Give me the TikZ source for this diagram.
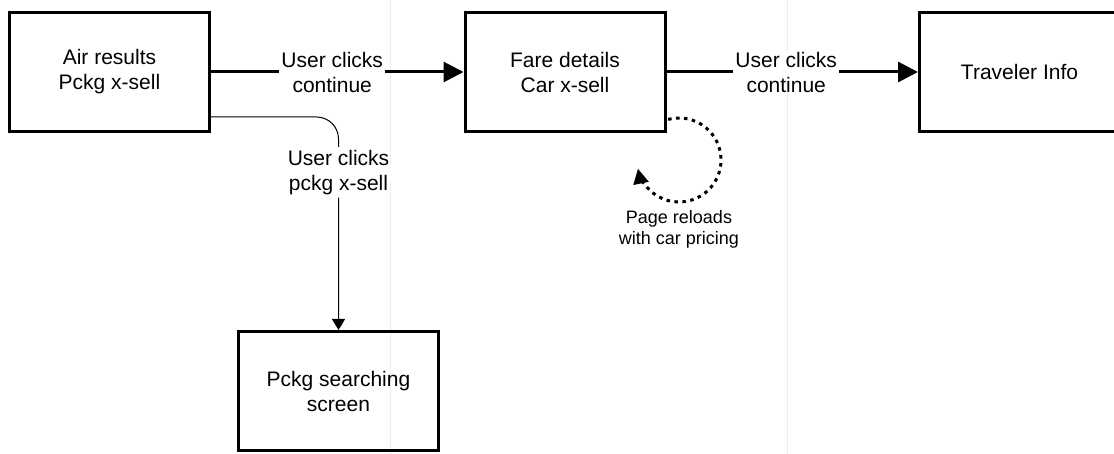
\documentclass[tikz,border=0pt]{standalone}
\usepackage{fontspec}
\setmainfont{Liberation Sans}
\usetikzlibrary{arrows.meta}

\begin{document}
\begin{tikzpicture}[x=1pt, y=1pt,
    screen/.style={draw, line width=3pt, minimum width=200pt, minimum height=119pt,
        align=center, font=\fontsize{21}{25}\selectfont},
    flow/.style={line width=3pt, -{Triangle[length=20pt, width=20pt]}},
    side/.style={line width=1pt, rounded corners=22pt, -{Triangle[length=11pt, width=13pt]}},
    reloadloop/.style={line width=3pt, dash pattern=on 3.5pt off 4.5pt,
        -{Triangle[length=15pt, width=15pt]}},
    clicklabel/.style={fill=white, inner xsep=2pt, inner ysep=1pt, align=center,
        font=\fontsize{21}{25}\selectfont},
    notelabel/.style={align=center, font=\fontsize{18}{21}\selectfont}]
        \useasboundingbox (0,0) rectangle (1114,-454);
        % page break guides
        \draw[black!7, line width=0.8pt] (390.5,0) -- (390.5,-454);
        \draw[black!7, line width=0.8pt] (787.7,0) -- (787.7,-454);

        \node[screen] (air) at (109.5,-72) {Air results\\Pckg x-sell};
        \node[screen] (fare) at (565,-72) {Fare details\\Car x-sell};
        \node[screen] (traveler) at (1019.5,-72) {Traveler Info};
        \node[screen] (pckg) at (338.5,-391) {Pckg searching\\screen};

        \draw[flow] (air) -- (fare) node[pos=0.48, clicklabel] {User clicks\\continue};
        \draw[flow] (fare) -- (traveler) node[pos=0.476, clicklabel] {User clicks\\continue};

        \coordinate (xsell) at ([yshift=-45pt]air.east);
        \draw[side] (xsell) -| (pckg.north) node[pos=0.63, clicklabel, inner ysep=3pt] {User clicks\\pckg x-sell};

        \coordinate (reload) at (679,-160);
        \draw[reloadloop] ([shift={(105:42pt)}]reload) arc[start angle=105, end angle=-168, radius=42pt];
        \node[notelabel] (reloadnote) at (679,-229) {Page reloads\\with car pricing};
    \end{tikzpicture}
\end{document}
